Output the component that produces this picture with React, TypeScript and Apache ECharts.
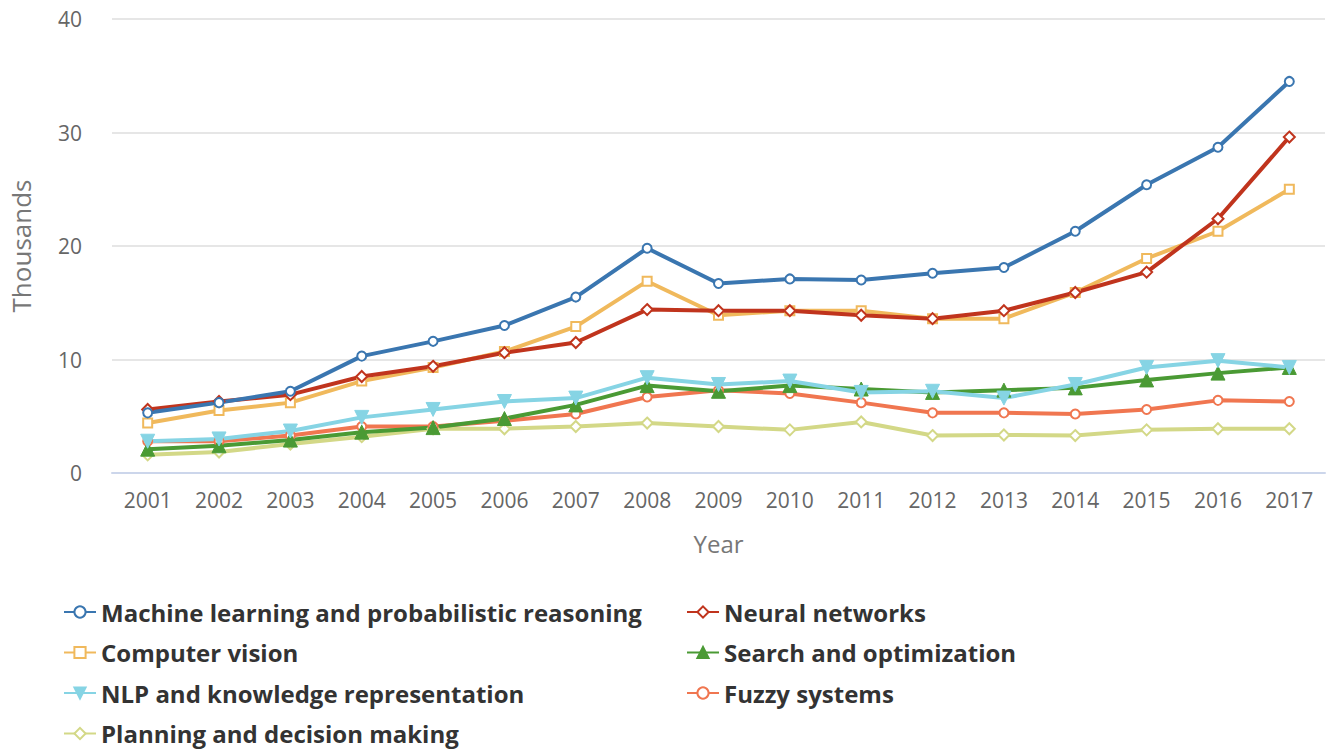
import React, { useEffect, useRef } from "react";
import * as echarts from "echarts";

const years = ["2001","2002","2003","2004","2005","2006","2007","2008","2009","2010","2011","2012","2013","2014","2015","2016","2017"];

const machineLearning = [5.3, 6.2, 7.2, 10.3, 11.6, 13.0, 15.5, 19.8, 16.7, 17.1, 17.0, 17.6, 18.1, 21.3, 25.4, 28.7, 34.5];
const neuralNetworks = [5.6, 6.3, 6.9, 8.5, 9.4, 10.6, 11.5, 14.4, 14.3, 14.3, 13.9, 13.6, 14.3, 15.9, 17.7, 22.4, 29.6];
const computerVision = [4.4, 5.5, 6.2, 8.1, 9.3, 10.7, 12.9, 16.9, 13.9, 14.3, 14.3, 13.6, 13.6, 15.9, 18.9, 21.3, 25.0];
const searchOptimization = [2.1, 2.4, 2.9, 3.6, 4.0, 4.8, 6.0, 7.7, 7.2, 7.7, 7.4, 7.1, 7.3, 7.5, 8.2, 8.8, 9.3];
const nlpKnowledge = [2.8, 3.0, 3.7, 4.9, 5.6, 6.3, 6.6, 8.4, 7.8, 8.1, 7.1, 7.2, 6.6, 7.8, 9.3, 9.9, 9.3];
const fuzzySystems = [2.8, 2.8, 3.3, 4.1, 4.1, 4.6, 5.2, 6.7, 7.3, 7.0, 6.2, 5.3, 5.3, 5.2, 5.6, 6.4, 6.3];
const planningDecision = [1.6, 1.85, 2.55, 3.2, 3.9, 3.9, 4.1, 4.4, 4.1, 3.8, 4.5, 3.3, 3.35, 3.3, 3.8, 3.9, 3.9];

const yTicks = [0, 10, 20, 30, 40];

const FONT = "'Open Sans', 'Noto Sans', sans-serif";

export default function App() {
  const ref = useRef<HTMLDivElement>(null);
  useEffect(() => {
    if (!ref.current) return;
    const chart = echarts.init(ref.current, undefined, { renderer: "svg" });
    const mk = (name: string, data: number[], color: string, symbol: string, size: number, bw: number, extra: any = {}) => ({
      name,
      type: "line",
      data,
      symbol,
      symbolSize: size,
      showSymbol: true,
      color,
      lineStyle: { width: 4, color },
      itemStyle: { color, borderColor: color, borderWidth: bw },
      emphasis: { disabled: true },
      ...extra,
    });
    const legendText = { fontFamily: FONT, fontSize: 24, fontWeight: "bold", color: "#333" };
    chart.setOption({
      animation: false,
      textStyle: { fontFamily: FONT },
      grid: { left: 109, right: 5, top: 19, bottom: 276 },
      legend: [
        {
          orient: "vertical",
          left: 58,
          top: 595,
          height: 152,
          itemWidth: 32,
          itemHeight: 14,
          itemGap: 16.5,
          textStyle: legendText,
          data: [
            "Machine learning and probabilistic reasoning",
            "Computer vision",
            "NLP and knowledge representation",
            "Planning and decision making",
          ],
        },
        {
          orient: "vertical",
          left: 681,
          top: 595,
          height: 152,
          itemWidth: 32,
          itemHeight: 14,
          itemGap: 16.5,
          textStyle: legendText,
          data: ["Neural networks", "Search and optimization", "Fuzzy systems"],
        },
      ],
      xAxis: {
        type: "category",
        data: years,
        boundaryGap: true,
        name: "Year",
        nameLocation: "middle",
        nameGap: 58,
        nameTextStyle: { fontSize: 24, color: "#777", fontFamily: FONT },
        axisLine: { lineStyle: { color: "#ccd6eb", width: 2 } },
        axisTick: { alignWithLabel: true, length: 14, lineStyle: { color: "#ccd6eb", width: 2 } },
        axisLabel: { fontSize: 21, color: "#666", margin: 16, fontFamily: FONT },
        splitLine: { show: false },
      },
      yAxis: {
        type: "value",
        min: yTicks[0],
        max: yTicks[yTicks.length - 1],
        interval: 10,
        name: "Thousands",
        nameLocation: "middle",
        nameGap: 78,
        nameTextStyle: { fontSize: 26, color: "#777", fontFamily: FONT },
        axisLine: { show: false },
        axisTick: { show: false },
        axisLabel: { fontSize: 21, color: "#666", margin: 30, fontFamily: FONT },
        splitLine: { lineStyle: { color: "#e6e6e6", width: 2 } },
      },
      series: [
        mk("Planning and decision making", planningDecision, "#d3d887", "emptyDiamond", 11, 3.5),
        mk("Fuzzy systems", fuzzySystems, "#f07650", "emptyCircle", 9, 3.5),
        mk("Search and optimization", searchOptimization, "#4a9a34", "triangle", 14, 1),
        mk("NLP and knowledge representation", nlpKnowledge, "#86d4e4", "triangle", 14, 1, { symbolRotate: 180 }),
        mk("Computer vision", computerVision, "#f0b95c", "emptyRect", 9, 3.5),
        mk("Neural networks", neuralNetworks, "#c0341d", "emptyDiamond", 11, 3.5),
        mk("Machine learning and probabilistic reasoning", machineLearning, "#3a76b0", "emptyCircle", 9, 3.5),
      ],
    });
    return () => chart.dispose();
  }, []);
  return <div ref={ref} style={{ position: "fixed", left: 0, top: 0, width: 1330, height: 749, background: "#fff" }} />;
}
